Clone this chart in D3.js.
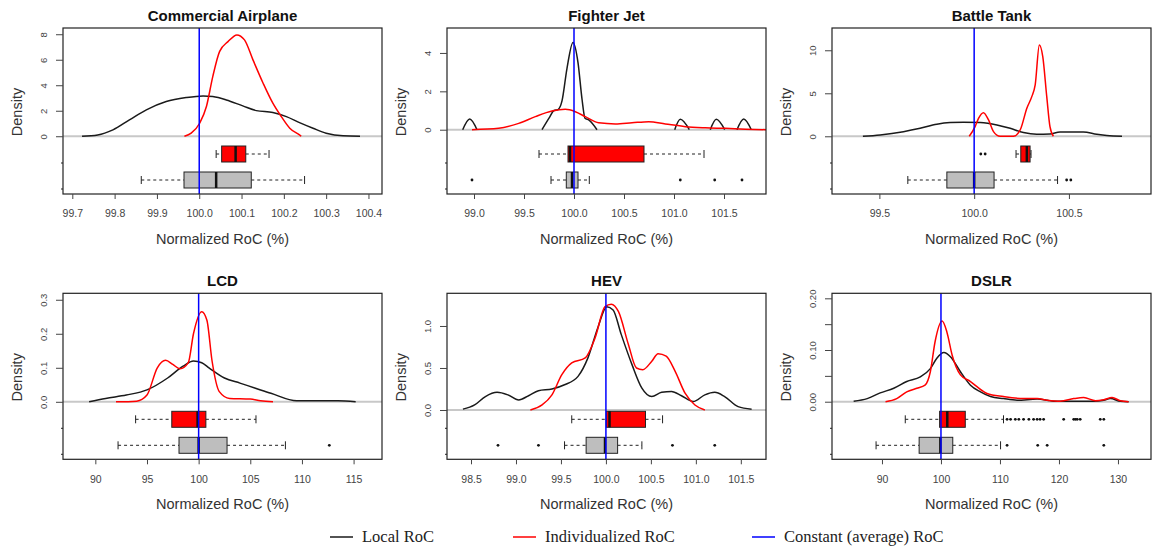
<!DOCTYPE html>
<html>
<head>
<meta charset="utf-8">
<script src="https://cdn.jsdelivr.net/npm/d3@7"></script>
<style>
  body { margin: 0; background: #fff; }
  svg { display: block; }
  .tick text { fill: #444; font-family: 'Liberation Sans', Arial, sans-serif; }
</style>
</head>
<body>
<div id="chart"></div>
<script>
const width = 1152;
const height = 550;

// ---- data: [x, density] ----
const airplaneLocal = [[99.723,0],[99.76,0.1],[99.796,0.5],[99.835,1.28],[99.875,2.07],[99.922,2.72],[99.969,3.03],[100.009,3.16],[100.032,3.11],[100.064,2.85],[100.103,2.38],[100.135,2.01],[100.174,1.86],[100.206,1.54],[100.237,1.07],[100.269,0.63],[100.30,0.24],[100.34,0.03],[100.38,0]];
const airplaneIndiv = [[99.965,0],[99.981,0.24],[100.001,1.02],[100.017,2.33],[100.032,4.68],[100.048,6.64],[100.068,7.42],[100.089,7.95],[100.107,7.56],[100.127,5.99],[100.151,4.16],[100.174,2.59],[100.194,1.54],[100.214,0.63],[100.237,0.1],[100.241,0]];

const jetLocal = [[98.887,0],[98.957,0.56],[99.03,0],null,[99.68,0],[99.75,0.6],[99.80,1.0],[99.84,1.05],[99.88,1.5],[99.93,3.2],[99.99,4.55],[100.04,3.5],[100.08,1.6],[100.11,0.6],[100.15,0.5],[100.23,0],null,[101.007,0],[101.063,0.54],[101.153,0],null,[101.363,0],[101.423,0.54],[101.507,0],null,[101.63,0],[101.697,0.56],[101.773,0]];
const jetIndiv = [[98.98,0],[99.247,0.07],[99.447,0.33],[99.613,0.68],[99.78,0.97],[99.913,1.06],[100.013,0.94],[100.113,0.68],[100.247,0.36],[100.413,0.30],[100.58,0.36],[100.747,0.42],[100.913,0.30],[101.113,0.16],[101.313,0.10],[101.513,0.07],[101.713,0.03],[101.93,0]];

const tankLocal = [[99.413,0],[99.504,0.16],[99.627,0.54],[99.715,0.93],[99.803,1.40],[99.873,1.59],[99.944,1.63],[100.032,1.59],[100.12,1.32],[100.19,0.93],[100.26,0.43],[100.33,0.23],[100.40,0.27],[100.453,0.50],[100.576,0.50],[100.647,0.23],[100.70,0.08],[100.78,0]];
const tankIndiv = [[99.974,0],[100.005,1.12],[100.023,2.09],[100.049,2.75],[100.076,1.90],[100.102,0.54],[100.137,0],[100.207,0],[100.243,0.74],[100.278,3.26],[100.304,4.61],[100.322,5.97],[100.344,10.62],[100.362,9.26],[100.383,4.61],[100.40,1.12],[100.418,0]];

const lcdLocal = [[89.4,0],[91,0.01],[93,0.02],[95,0.035],[97,0.07],[98.5,0.105],[99.5,0.12],[100.3,0.115],[101,0.1],[102.5,0.07],[104,0.055],[105.5,0.04],[107,0.025],[109.5,0.003],[113.5,0.003],[115.2,0]];
const lcdIndiv = [[92,0],[94,0.002],[95,0.02],[96,0.1],[96.8,0.122],[97.5,0.11],[98.2,0.097],[99,0.115],[99.5,0.2],[100.3,0.265],[100.8,0.24],[101.3,0.12],[102,0.03],[103,0.01],[105,0.008],[106,0.003],[107.2,0]];

const hevLocal = [[98.41,0.01],[98.54,0.06],[98.66,0.16],[98.79,0.21],[98.91,0.18],[99.03,0.12],[99.14,0.17],[99.25,0.23],[99.40,0.25],[99.54,0.30],[99.69,0.40],[99.80,0.62],[99.91,0.98],[100.01,1.23],[100.08,1.19],[100.17,0.90],[100.29,0.54],[100.40,0.26],[100.51,0.16],[100.62,0.21],[100.73,0.22],[100.84,0.17],[100.97,0.10],[101.10,0.18],[101.21,0.21],[101.32,0.16],[101.47,0.04],[101.62,0.01]];
const hevIndiv = [[99.16,0],[99.29,0.06],[99.40,0.18],[99.51,0.42],[99.62,0.56],[99.77,0.62],[99.88,0.86],[99.99,1.23],[100.06,1.26],[100.14,1.17],[100.25,0.78],[100.34,0.50],[100.41,0.48],[100.51,0.58],[100.58,0.67],[100.67,0.64],[100.77,0.46],[100.88,0.20],[100.99,0.06],[101.10,0]];

const dslrLocal = [[85.2,0.001],[87.5,0.006],[89.7,0.017],[92.0,0.026],[94.2,0.039],[96.5,0.048],[98.2,0.064],[99.3,0.084],[100.5,0.095],[101.6,0.087],[103.3,0.058],[105.0,0.032],[106.7,0.019],[108.4,0.010],[110.6,0.006],[112.9,0.003],[116.3,0.005],[118.0,0.003],[119.1,0.001],[126.0,0.001],[127.6,0.003],[128.7,0.006],[130.4,0.001],[131.8,0]];
const dslrIndiv = [[90.6,0],[92.5,0.006],[94.2,0.019],[95.9,0.026],[97.3,0.032],[98.2,0.058],[99.0,0.116],[100.2,0.156],[101.0,0.135],[101.9,0.090],[103.3,0.052],[105.0,0.039],[106.1,0.029],[107.8,0.016],[110.6,0.010],[114.0,0.006],[116.3,0.006],[118.0,0.003],[120.2,0.001],[122.5,0.006],[124.2,0.008],[126.2,0.002],[127.6,0.004],[129.0,0.008],[130.4,0.002],[131.8,0]];

// boxplot stats: [lower whisker, q1, median, q3, upper whisker]
const airplaneLocalBox = [99.863, 99.964, 100.04, 100.123, 100.249];
const airplaneIndivBox = [100.04, 100.053, 100.086, 100.11, 100.165];
const jetLocalBox = [99.77, 99.923, 99.98, 100.04, 100.153];
const jetIndivBox = [99.65, 99.94, 99.96, 100.70, 101.30];
const tankLocalBox = [99.65, 99.856, 100.0, 100.105, 100.44];
const tankIndivBox = [100.221, 100.246, 100.278, 100.295, 100.30];
const lcdLocalBox = [92.2, 98.1, 100.0, 102.75, 108.4];
const lcdIndivBox = [93.9, 97.4, 99.9, 100.7, 105.55];
const hevLocalBox = [99.54, 99.78, 99.99, 100.13, 100.40];
const hevIndivBox = [99.62, 100.004, 100.04, 100.44, 100.63];
const dslrLocalBox = [89.0, 96.3, 99.9, 102.0, 110.1];
const dslrIndivBox = [93.95, 99.77, 101.07, 104.12, 110.6];

// outliers
const jetLocalOut = [98.98, 101.063, 101.407, 101.68];
const tankLocalOut = [100.488, 100.51];
const tankIndivOut = [100.035, 100.058];
const lcdLocalOut = [112.65];
const hevLocalOut = [98.80, 99.25, 100.74, 101.21];
const dslrLocalOut = [111.2, 116.4, 118.0, 127.6];
const dslrIndivOut = [111.2, 111.8, 112.6, 113.2, 114.0, 114.9, 115.7, 116.3, 116.8, 117.4, 120.8, 122.5, 122.8, 123.1, 123.6, 127.0, 127.6];

// tick labels
const airplaneXTicks = [99.7, 99.8, 99.9, 100.0, 100.1, 100.2, 100.3, 100.4];
const jetXTicks = [99.0, 99.5, 100.0, 100.5, 101.0, 101.5];
const tankXTicks = [99.5, 100.0, 100.5];
const lcdXTicks = [90, 95, 100, 105, 110, 115];
const hevXTicks = [98.5, 99.0, 99.5, 100.0, 100.5, 101.0, 101.5];
const dslrXTicks = [90, 100, 110, 120, 130];
const airplaneYTicks = [0, 2, 4, 6, 8];
const jetYTicks = [0, 2, 4];
const tankYTicks = [0, 5, 10];
const lcdYTicks = [0, 0.1, 0.2, 0.3];
const hevYTicks = [0, 0.5, 1.0];
const dslrYTicks = [0, 0.05, 0.10, 0.15, 0.20];

const titles = ['Commercial Airplane', 'Fighter Jet', 'Battle Tank', 'LCD', 'HEV', 'DSLR'];
const legendLabels = ['Local RoC', 'Individualized RoC', 'Constant (average) RoC'];

const panels = [
  { local: airplaneLocal, indiv: airplaneIndiv, lBox: airplaneLocalBox, iBox: airplaneIndivBox, lOut: [], iOut: [],
    xTicks: airplaneXTicks, yTicks: airplaneYTicks, xDom: [99.678, 100.432], yDom: [-4.53, 8.49], xf: '.1f', yf: 'd' },
  { local: jetLocal, indiv: jetIndiv, lBox: jetLocalBox, iBox: jetIndivBox, lOut: jetLocalOut, iOut: [],
    xTicks: jetXTicks, yTicks: jetYTicks, xDom: [98.73, 101.92], yDom: [-3.35, 5.30], xf: '.1f', yf: 'd' },
  { local: tankLocal, indiv: tankIndiv, lBox: tankLocalBox, iBox: tankIndivBox, lOut: tankLocalOut, iOut: tankIndivOut,
    xTicks: tankXTicks, yTicks: tankYTicks, xDom: [99.25, 100.933], yDom: [-6.71, 12.59], xf: '.1f', yf: 'd' },
  { local: lcdLocal, indiv: lcdIndiv, lBox: lcdLocalBox, iBox: lcdIndivBox, lOut: lcdLocalOut, iOut: [],
    xTicks: lcdXTicks, yTicks: lcdYTicks, xDom: [86.87, 117.75], yDom: [-0.169, 0.319], xf: 'd', yf: '.1f' },
  { local: hevLocal, indiv: hevIndiv, lBox: hevLocalBox, iBox: hevIndivBox, lOut: hevLocalOut, iOut: [],
    xTicks: hevXTicks, yTicks: hevYTicks, xDom: [98.233, 101.78], yDom: [-0.587, 1.389], xf: '.1f', yf: '.1f' },
  { local: dslrLocal, indiv: dslrIndiv, lBox: dslrLocalBox, iBox: dslrIndivBox, lOut: dslrLocalOut, iOut: dslrIndivOut,
    xTicks: dslrXTicks, yTicks: dslrYTicks, xDom: [81.53, 135.6], yDom: [-0.1114, 0.2097], xf: 'd', yf: '.2f' }
];

// layout
const colLeft = [63, 447, 832];
const rowTop = [28, 293.3];
const pw = 319;
const ph = 166;
const boxH = 16;

const svg = d3.select('#chart').append('svg')
  .attr('width', width)
  .attr('height', height);

svg.append('rect').attr('width', width).attr('height', height).attr('fill', '#fff');

panels.forEach((p, i) => {
  const left = colLeft[i % 3];
  const top = rowTop[Math.floor(i / 3)];
  const g = svg.append('g').attr('transform', `translate(${left}, ${top})`);

  const x = d3.scaleLinear().domain(p.xDom).range([0, pw]);
  const y = d3.scaleLinear().domain(p.yDom).range([ph, 0]);

  // zero line
  g.append('line')
    .attr('x1', 0).attr('x2', pw)
    .attr('y1', y(0)).attr('y2', y(0))
    .attr('stroke', '#c8c8c8').attr('stroke-width', 2);

  const line = d3.line()
    .defined((d) => d !== null)
    .x((d) => x(d[0]))
    .y((d) => y(d[1]))
    .curve(d3.curveMonotoneX);

  const clip = 'clip' + i;
  g.append('clipPath').attr('id', clip)
    .append('rect').attr('width', pw).attr('height', ph);

  g.append('path').datum(p.local)
    .attr('d', line).attr('fill', 'none')
    .attr('stroke', '#1a1a1a').attr('stroke-width', 1.5)
    .attr('clip-path', `url(#${clip})`);

  g.append('path').datum(p.indiv)
    .attr('d', line).attr('fill', 'none')
    .attr('stroke', '#ff0000').attr('stroke-width', 1.5)
    .attr('clip-path', `url(#${clip})`);

  // boxplots
  const drawBox = (stats, outs, yc, fill) => {
    const bg = g.append('g').attr('clip-path', `url(#${clip})`);
    bg.append('line')
      .attr('x1', x(stats[0])).attr('x2', x(stats[1]))
      .attr('y1', yc).attr('y2', yc)
      .attr('stroke', '#222').attr('stroke-dasharray', '3,3');
    bg.append('line')
      .attr('x1', x(stats[3])).attr('x2', x(stats[4]))
      .attr('y1', yc).attr('y2', yc)
      .attr('stroke', '#222').attr('stroke-dasharray', '3,3');
    [stats[0], stats[4]].forEach((v) => {
      bg.append('line')
        .attr('x1', x(v)).attr('x2', x(v))
        .attr('y1', yc - boxH / 4).attr('y2', yc + boxH / 4)
        .attr('stroke', '#222');
    });
    bg.append('rect')
      .attr('x', x(stats[1])).attr('y', yc - boxH / 2)
      .attr('width', x(stats[3]) - x(stats[1])).attr('height', boxH)
      .attr('fill', fill).attr('stroke', '#222').attr('stroke-width', 1);
    bg.append('line')
      .attr('x1', x(stats[2])).attr('x2', x(stats[2]))
      .attr('y1', yc - boxH / 2).attr('y2', yc + boxH / 2)
      .attr('stroke', '#111').attr('stroke-width', 2.5);
    bg.selectAll('circle')
      .data(outs)
      .enter()
      .append('circle')
      .attr('cx', (d) => x(d))
      .attr('cy', yc)
      .attr('r', 1.4)
      .attr('fill', '#111');
  };
  drawBox(p.iBox, p.iOut, ph - 40, '#ff0000');
  drawBox(p.lBox, p.lOut, ph - 14, '#bebebe');

  // constant (average) RoC
  g.append('line')
    .attr('x1', x(100)).attr('x2', x(100))
    .attr('y1', 0).attr('y2', ph)
    .attr('stroke', '#0000ff').attr('stroke-width', 1.5);

  // frame
  g.append('rect')
    .attr('width', pw).attr('height', ph)
    .attr('fill', 'none').attr('stroke', '#222').attr('stroke-width', 1.2);

  // x axis
  const xAxis = d3.axisBottom(x)
    .tickValues(p.xTicks)
    .tickSize(5)
    .tickPadding(11)
    .tickFormat(d3.format(p.xf));
  const xg = g.append('g').attr('transform', `translate(0, ${ph})`).call(xAxis);
  xg.select('.domain').remove();
  xg.selectAll('.tick line').attr('stroke', '#444');
  xg.selectAll('.tick text').style('font-size', '10.5px');

  // y axis, labels turned like R's default
  const yAxis = d3.axisLeft(y)
    .tickValues(p.yTicks)
    .tickSize(7)
    .tickFormat((d) => (p.yf === '.2f' && (Math.abs(d - 0.05) < 1e-9 || Math.abs(d - 0.15) < 1e-9)) ? '' : d3.format(p.yf)(d));
  const yg = g.append('g').call(yAxis);
  yg.select('.domain').remove();
  yg.selectAll('.tick line').attr('stroke', '#444');
  yg.selectAll('.tick text')
    .attr('x', 0).attr('dy', '0.35em')
    .attr('text-anchor', 'middle')
    .attr('transform', 'translate(-19.5, 0) rotate(-90)')
    .style('font-size', '9.5px');

  // small leftover ticks of the boxplot axis
  [ph - 31, ph - 5].forEach((ty) => {
    g.append('line')
      .attr('x1', -2).attr('x2', 0)
      .attr('y1', ty).attr('y2', ty)
      .attr('stroke', '#222');
  });

  // titles
  g.append('text')
    .text(titles[i])
    .attr('x', pw / 2).attr('y', -7)
    .attr('text-anchor', 'middle')
    .style('font-family', 'Liberation Sans, Arial, sans-serif')
    .style('font-weight', 'bold')
    .style('font-size', '15px')
    .attr('fill', '#111');

  g.append('text')
    .text('Normalized RoC (%)')
    .attr('x', pw / 2).attr('y', ph + 50)
    .attr('text-anchor', 'middle')
    .style('font-family', 'Liberation Sans, Arial, sans-serif')
    .style('font-size', '14.5px')
    .attr('fill', '#333');

  g.append('text')
    .text('Density')
    .attr('transform', `translate(-41, ${84}) rotate(-90)`)
    .attr('text-anchor', 'middle')
    .style('font-family', 'Liberation Sans, Arial, sans-serif')
    .style('font-size', '14.5px')
    .attr('fill', '#333');
});

// legend
const legendColors = ['#1a1a1a', '#ff0000', '#0000ff'];
const legendX = [330, 513, 752];
const legend = svg.append('g').attr('transform', 'translate(0, 537)');
legend.selectAll('line')
  .data(legendLabels)
  .enter()
  .append('line')
  .attr('x1', (d, i) => legendX[i])
  .attr('x2', (d, i) => legendX[i] + 23)
  .attr('y1', 0).attr('y2', 0)
  .attr('stroke', (d, i) => legendColors[i])
  .attr('stroke-width', 1.5);
legend.selectAll('text')
  .data(legendLabels)
  .enter()
  .append('text')
  .text((d) => d)
  .attr('x', (d, i) => legendX[i] + 32)
  .attr('y', 5)
  .style('font-family', 'Liberation Serif, Times New Roman, serif')
  .style('font-size', '16.5px')
  .attr('fill', '#222');
</script>
</body>
</html>
